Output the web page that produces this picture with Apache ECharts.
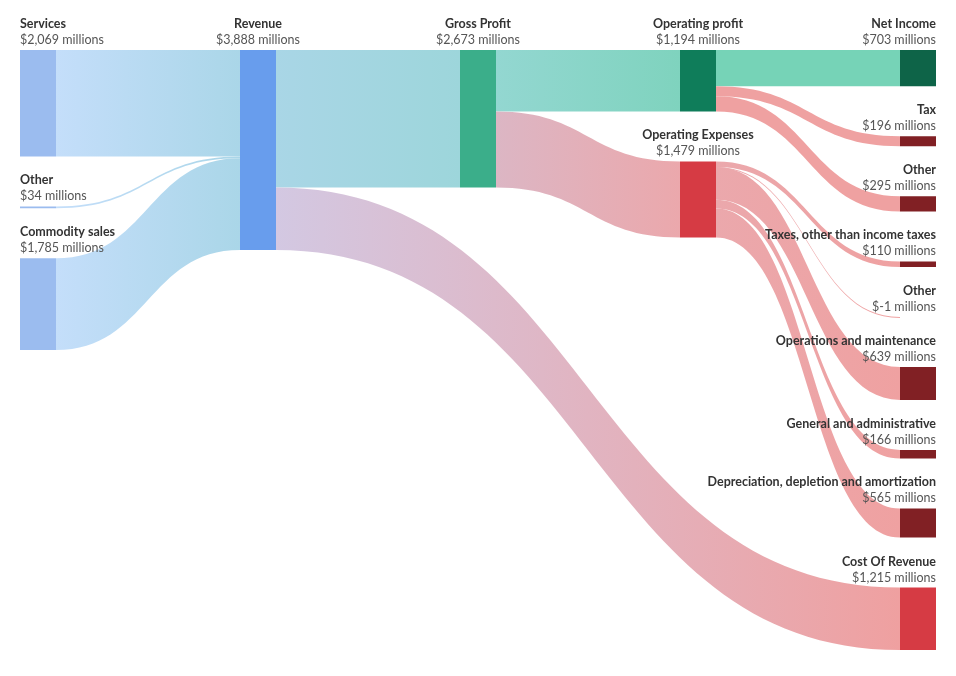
<!DOCTYPE html>
<html>
<head>
<meta charset="utf-8">
<script src="https://cdn.jsdelivr.net/npm/echarts@6/dist/echarts.min.js"></script>
<style>
html,body{margin:0;padding:0;background:#fff;}
#chart{width:956px;height:676px;}
</style>
</head>
<body>
<div id="chart"></div>
<script>
// ---- data ----
const nodeLabels = ['Services', 'Other', 'Commodity sales', 'Revenue', 'Gross Profit',
  'Operating profit', 'Operating Expenses', 'Net Income', 'Tax', 'Other',
  'Taxes, other than income taxes', 'Other', 'Operations and maintenance',
  'General and administrative', 'Depreciation, depletion and amortization', 'Cost Of Revenue'];
const nodeValues = [2069, 34, 1785, 3888, 2673, 1194, 1479, 703, 196, 295, 110, -1, 639, 166, 565, 1215];
const linkSources = [0, 1, 2, 3, 3, 4, 4, 5, 5, 5, 6, 6, 6, 6, 6];
const linkTargets = [3, 3, 3, 4, 15, 5, 6, 7, 8, 9, 10, 11, 12, 13, 14];
const linkValues = [2069, 34, 1785, 2673, 1215, 1194, 1479, 703, 196, 295, 110, -1, 639, 166, 565];

// ---- styling ----
const nodeColors = ['#9bbcef', '#9bbcef', '#9bbcef', '#689ded', '#3bae8a', '#0f7d5a', '#d63b44',
  '#0e6448', '#812024', '#812024', '#812024', '#812024', '#812024', '#812024', '#812024', '#d63b44'];
const linkColorPairs = [
  ['#c4defa', '#aad6e8'], ['#c4defa', '#aad6e8'], ['#c4defa', '#aad6e8'],
  ['#a9d6e6', '#9dd6db'], ['#d3c8e2', '#efa0a0'],
  ['#93d7d1', '#7fd3be'], ['#dcb6c4', '#eba8ac'],
  ['#76d3b7', '#76d3b7'], ['#efa1a1', '#efa1a1'], ['#efa1a1', '#efa1a1'],
  ['#eba8ac', '#efa1a1'], ['#eba8ac', '#efa1a1'], ['#eba8ac', '#efa1a1'], ['#eba8ac', '#efa1a1'], ['#eba8ac', '#efa1a1']
];
const leftCol = [0, 1, 2];
const rightCol = [7, 8, 9, 10, 11, 12, 13, 14, 15];
const FONT = 'Lato';

function fmt(v) {
  return '$' + v.toLocaleString('en-US') + ' millions';
}

const nodes = nodeLabels.map(function (lab, i) {
  let label;
  if (leftCol.indexOf(i) >= 0) {
    label = { position: [0, -2], align: 'left', verticalAlign: 'bottom' };
  } else if (rightCol.indexOf(i) >= 0) {
    label = { position: ['100%', -2], align: 'right', verticalAlign: 'bottom' };
  } else {
    label = { position: 'top', distance: 2, align: 'center' };
  }
  return {
    name: 'n' + i,
    itemStyle: { color: nodeColors[i] },
    label: label
  };
});

const links = linkSources.map(function (s, i) {
  return {
    source: 'n' + s,
    target: 'n' + linkTargets[i],
    value: linkValues[i],
    lineStyle: {
      color: {
        type: 'linear', x: 0, y: 0, x2: 1, y2: 0,
        colorStops: [{ offset: 0, color: linkColorPairs[i][0] }, { offset: 1, color: linkColorPairs[i][1] }]
      },
      opacity: 1
    }
  };
});

const chart = echarts.init(document.getElementById('chart'));
chart.setOption({
  animation: false,
  textStyle: { fontFamily: FONT },
  series: [{
    type: 'sankey',
    left: 20, right: 20, top: 50, bottom: 26,
    nodeWidth: 36,
    nodeGap: 50,
    nodeAlign: 'justify',
    layoutIterations: 32,
    draggable: false,
    emphasis: { disabled: true },
    data: nodes,
    links: links,
    itemStyle: { borderWidth: 0 },
    lineStyle: { curveness: 0.5, opacity: 1 },
    label: {
      show: true,
      formatter: function (p) {
        const i = parseInt(p.name.slice(1), 10);
        return '{n|' + nodeLabels[i] + '}\n{v|' + fmt(nodeValues[i]) + '}';
      },
      rich: {
        n: { fontFamily: FONT, fontSize: 12.5, fontWeight: 'bold', color: '#333', lineHeight: 16 },
        v: { fontFamily: FONT, fontSize: 12.5, color: '#555', lineHeight: 16 }
      }
    }
  }]
});
</script>
</body>
</html>
